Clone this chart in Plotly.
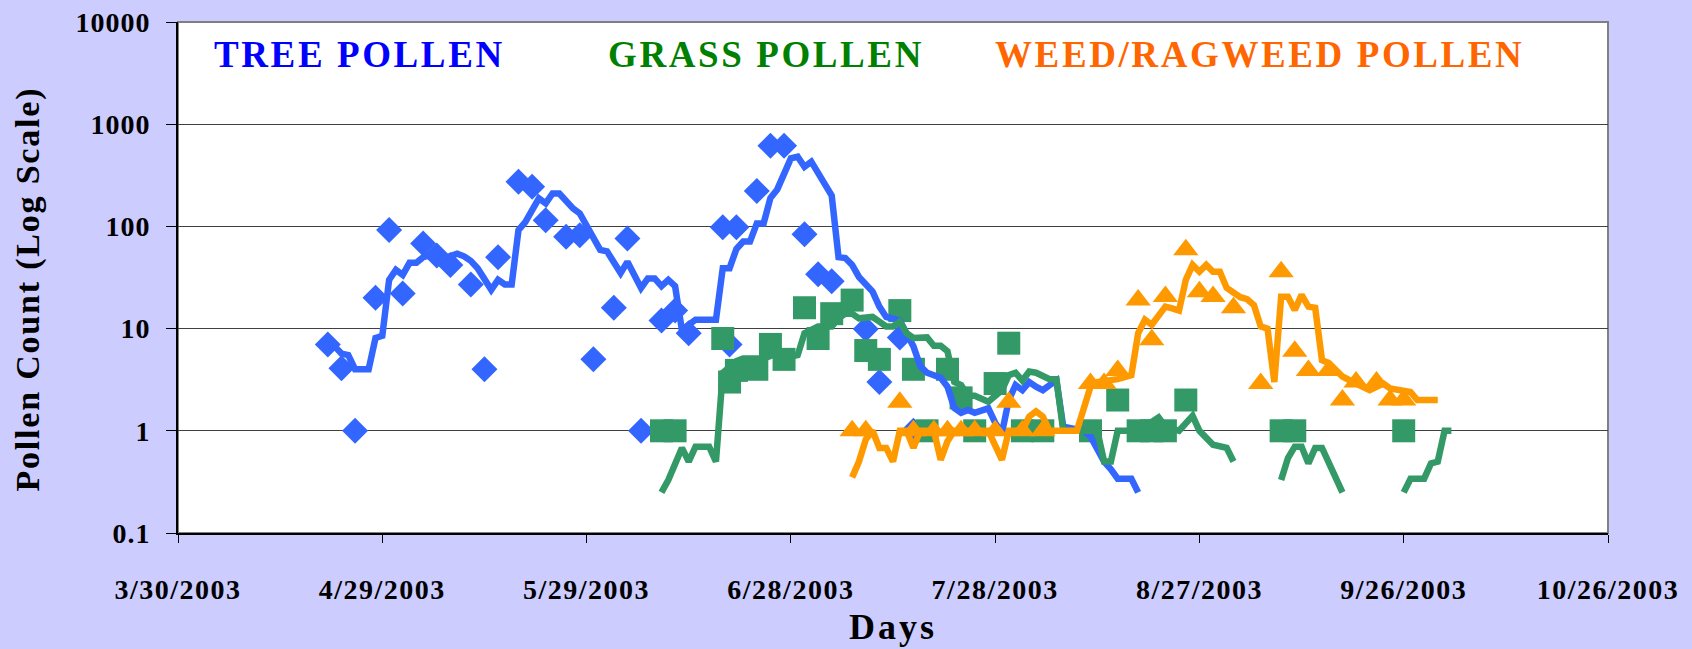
import numpy as np
import plotly.graph_objects as go

# day numbers are counted from 3/30/2003
start = np.datetime64('2003-03-30')

# daily counts (markers)
tree_days = [22, 24, 26, 29, 31, 33, 36, 38, 40, 43, 45, 47, 50, 52, 54, 57, 59, 61, 64, 66, 68,
             71, 73, 75, 80, 81, 82, 85, 87, 89, 92, 94, 96, 101, 103, 106, 108]
tree_counts = [7, 4.1, 1, 20, 92, 22, 68, 52, 42, 27, 4, 50, 273, 244, 115, 79, 82, 5, 16, 76, 1,
               12, 15, 9, 98, 7, 98, 222, 616, 616, 84, 34, 29, 9.9, 3, 8.2, 1]

grass_days = [71, 73, 80, 81, 82, 85, 87, 89, 92, 94, 96, 99, 101, 103, 106, 108, 110, 113, 115,
              117, 120, 122, 124, 127, 134, 138, 141, 143, 145, 148, 162, 164, 180]
grass_counts = [1, 1, 8, 3, 3.9, 4, 7, 5, 16, 8, 14, 19, 6.1, 5, 15, 4, 1, 4, 2.1,
                1, 2.9, 7.2, 1, 1, 1, 2, 1, 1, 1, 2, 1, 1, 1]

weed_days = [99, 101, 106, 108, 111, 113, 115, 117, 120, 122, 124, 127, 134, 136, 138, 141, 143,
             145, 148, 150, 152, 155, 159, 162, 164, 166, 169, 171, 173, 176, 178, 180]
weed_counts = [1, 1, 1.9, 1, 1, 1, 1, 1, 1, 1.9, 1, 1, 2.9, 2.9, 3.9, 19, 7.8,
               20.6, 59, 23, 20.6, 16, 2.9, 36, 6, 3.9, 3.9, 2, 3, 3, 2, 2]

# running averages (lines)
tree_avg_days = [23, 24, 25, 26, 28, 29, 30, 31, 32, 33, 34, 35, 36, 37, 38, 40, 41, 42, 43, 44,
                 46, 47, 48, 49, 50, 51, 53, 54, 55, 56, 58, 59, 62, 63, 65, 66, 68, 69, 70, 71,
                 72, 73, 74, 76, 79, 80, 81, 82, 83, 84, 85, 86, 87, 88, 90, 91, 92, 93, 94, 96,
                 97, 98, 99, 100, 102, 103, 104, 106, 108, 109, 110, 112, 113, 114, 115, 116, 117,
                 119, 120, 121, 122, 123, 124, 125, 126, 127, 128, 129, 130, 133, 134, 136, 137,
                 138, 140, 141]
tree_avg = [6.7, 5.7, 5.5, 4.0, 4.0, 8.1, 8.5, 30, 37.5, 33.5, 44, 44, 50, 52, 46, 52, 54, 51, 46, 39,
            24, 30, 27, 27, 92, 110, 188, 168, 210, 210, 150, 134, 59, 57, 35, 45, 25, 31, 31, 26,
            30, 26, 9.7, 12.2, 12.2, 39, 39, 60, 71, 71, 107, 107, 190, 230, 463, 480, 383, 430, 330, 200,
            50, 49, 42, 32, 23, 16.4, 13, 12, 6.7, 4.3, 3.7, 3.3, 2.7, 1.67, 1.5, 1.6, 1.5,
            1.66, 1.2, 0.95, 2.0, 2.8, 2.5, 3.0, 2.7, 2.5, 2.8, 3.1, 1.1, 1.0, 0.88, 0.5, 0.42,
            0.34, 0.34, 0.25]

grass_avg_days = [71, 72, 74, 75, 76, 78, 79, 80, 82, 83, 86, 87, 88, 90, 91, 92, 94, 96, 97, 98,
                  99, 100, 102, 103, 104, 105, 106, 107, 108, 110, 111, 112, 113, 114, 115, 116,
                  117, 119, 120, 121, 122, 123, 124, 125, 126, 128, 129, 130, 131, 134, 135, 136,
                  137, 138, 140, 142, 144, 145, 147, 149, 150, 152, 154, 155, None,
                  162, 163, 164, 165, 166, 167, 168, 169, 171, None,
                  180, 181, 183, 184, 185, 186, 187]
grass_avg = [0.25, 0.33, 0.68, 0.5, 0.7, 0.7, 0.5, 3.7, 4.8, 5.1, 5.1, 5.5, 5.7, 5.3, 5.5, 9, 10.5, 10.5, 12.6, 14,
             14, 12.6, 13, 11.7, 10.5, 10.5, 11.7, 9, 8.1, 8.2, 6.8, 6.8, 6, 3.0, 2.8, 2.2,
             2.2, 1.93, 2.2, 2.5, 3.5, 3.7, 3.1, 3.8, 3.7, 3.2, 3.2, 1.0, 1.0, 1.0, 1.0, 0.5,
             0.5, 1.0, 1.0, 1.1, 1.35, 1.1, 1.0, 1.4, 1.0, 0.73, 0.68, 0.5, None,
             0.33, 0.54, 0.7, 0.7, 0.48, 0.68, 0.68, 0.48, 0.25, None,
             0.25, 0.34, 0.34, 0.48, 0.5, 1.0, 1.0]

weed_avg_days = [99, 100, 101, 102, 103, 104, 105, 106, 107, 108, 109, 111, 112, 113, 114, 119, 121,
                 122, 124, 125, 126, 127, 128, 132, 134, 135, 138, 140, 141, 142, 143, 144, 145,
                 146, 147, 148, 149, 150, 151, 152, 153, 154, 156, 157, 158, 159, 160, 161, 162,
                 163, 164, 165, 166, 167, 168, 169, 171, 173, 175, 177, 178, 181, 182, 185]
weed_avg = [0.35, 0.5, 0.82, 1.0, 0.68, 0.68, 0.5, 1, 1, 0.68, 1, 1, 0.52, 0.79, 1, 1, 0.52,
            1, 1, 1.38, 1.55, 1.38, 1, 1, 2.7, 3.0, 3.2, 3.5, 9, 12.2, 10.9, 13.6, 16.4,
            15.8, 15, 30, 42, 36, 42, 36, 36, 25, 20.3, 19.4, 17, 10.5, 10, 3.0, 20.5,
            20.5, 15.2, 21.4, 16.4, 16, 4.9, 4.6, 3.4, 2.9, 2.5, 2.9, 2.6, 2.4, 2.0, 2.0]

date_ticks = ['3/30/2003', '4/29/2003', '5/29/2003', '6/28/2003', '7/28/2003', '8/27/2003',
              '9/26/2003', '10/26/2003']
y_ticks = [0.1, 1, 10, 100, 1000, 10000]
y_tick_text = ['0.1', '1', '10', '100', '1000', '10000']


def to_dates(days):
    return [None if d is None else str(start + np.timedelta64(d, 'D')) for d in days]


def spaced(s, px):
    return '<span style="letter-spacing:%spx">%s</span>' % (px, s)


BLUE = '#3366FF'
GREEN = '#339966'
ORANGE = '#FF9900'

fig = go.Figure()
fig.add_trace(go.Scatter(x=to_dates(tree_days), y=tree_counts, mode='markers',
                         marker=dict(symbol='diamond', size=20, color=BLUE)))
fig.add_trace(go.Scatter(x=to_dates(grass_days), y=grass_counts, mode='markers',
                         marker=dict(symbol='square', size=23, color=GREEN)))
fig.add_trace(go.Scatter(x=to_dates(tree_avg_days), y=tree_avg, mode='lines',
                         line=dict(color=BLUE, width=6.5)))
fig.add_trace(go.Scatter(x=to_dates(grass_avg_days), y=grass_avg, mode='lines',
                         line=dict(color=GREEN, width=6.5), connectgaps=False))
fig.add_trace(go.Scatter(x=to_dates(weed_days), y=weed_counts, mode='markers',
                         marker=dict(symbol='triangle-up', size=22, color=ORANGE)))
fig.add_trace(go.Scatter(x=to_dates(weed_avg_days), y=weed_avg, mode='lines',
                         line=dict(color=ORANGE, width=6.5)))

tick_font = dict(family='Liberation Serif', size=28, color='black', weight='bold')

fig.update_xaxes(type='date', range=['2003-03-30', '2003-10-26'],
                 tickvals=[str(start + np.timedelta64(30 * i, 'D')) for i in range(len(date_ticks))],
                 ticktext=[spaced(t, 1.5) for t in date_ticks],
                 ticks='outside', ticklen=8, tickwidth=1, tickcolor='black',
                 showgrid=False, showline=True, linecolor='black', linewidth=2,
                 tickfont=tick_font, ticklabelstandoff=22, automargin=False)
fig.update_yaxes(type='log', range=[-1, 4], tickvals=y_ticks,
                 ticktext=[spaced(t, 1) for t in y_tick_text],
                 ticks='outside', ticklen=10, tickwidth=1, tickcolor='black',
                 showgrid=True, gridcolor='#404040', gridwidth=1,
                 showline=True, linecolor='black', linewidth=2,
                 tickfont=tick_font, ticklabelstandoff=10, automargin=False)

fig.add_shape(type='rect', xref='paper', yref='paper', x0=0, x1=1, y0=0, y1=1,
              line=dict(color='#808080', width=2), layer='below')

labels = [('TREE POLLEN', 0.127, '#0000FF'),
          ('GRASS POLLEN', 0.411, '#008000'),
          ('WEED/RAGWEED POLLEN', 0.756, '#FF6600')]
for text, xpos, col in labels:
    fig.add_annotation(text=spaced(text, 2.6), x=xpos, y=0.937, xref='paper', yref='paper',
                       showarrow=False, xanchor='center', yanchor='middle',
                       font=dict(family='Liberation Serif', size=37, color=col, weight='bold'))

fig.add_annotation(text=spaced('Pollen Count (Log Scale)', 1.8), x=-0.105, y=0.478,
                   xref='paper', yref='paper', showarrow=False, textangle=-90,
                   xanchor='center', yanchor='middle',
                   font=dict(family='Liberation Serif', size=34, color='black', weight='bold'))
fig.add_annotation(text=spaced('Days', 3), x=0.5, y=-0.183, xref='paper', yref='paper',
                   showarrow=False, xanchor='center', yanchor='middle',
                   font=dict(family='Liberation Serif', size=36, color='black', weight='bold'))

fig.update_layout(width=1692, height=649, margin=dict(l=178, r=84, t=22, b=116),
                  paper_bgcolor='#CCCCFF', plot_bgcolor='white', showlegend=False,
                  font=dict(family='Liberation Serif'))

fig.write_html('out.html', config={'displayModeBar': False},
               post_script="document.body.style.margin='0';document.body.style.background='#CCCCFF';")
